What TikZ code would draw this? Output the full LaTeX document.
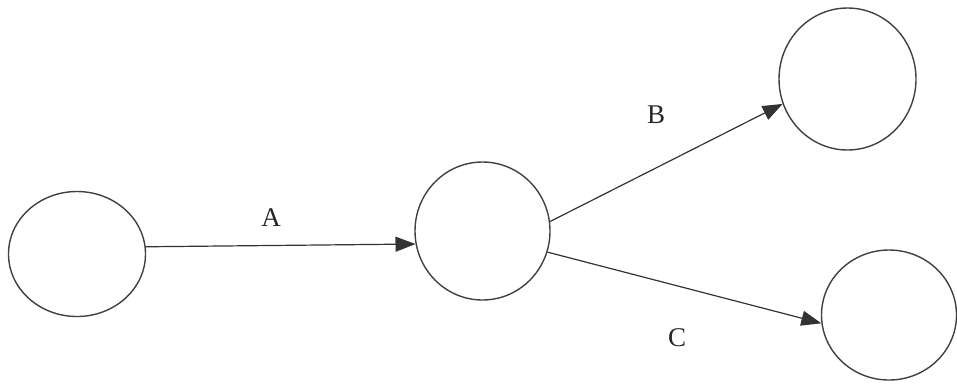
\documentclass[tikz,border=0pt]{standalone}
\usepackage{fontspec}
\setmainfont{Liberation Serif}
\usetikzlibrary{shapes.geometric,arrows.meta}
\begin{document}
\begin{tikzpicture}[x=1pt,y=-1pt,
  state/.style={ellipse,draw=black!75,line width=1.4pt,inner sep=0pt},
  conn/.style={draw=black!80,line width=1.2pt,-{Triangle[length=20pt,width=15pt]}},
  lbl/.style={font=\fontsize{27}{29}\selectfont,text=black!85}]
\useasboundingbox (0,0) rectangle (957,384);
\node[state,minimum width=137pt,minimum height=125pt] (c1) at (77,254) {};
\node[state,minimum width=135pt,minimum height=138pt] (c2) at (482.5,231) {};
\node[state,minimum width=137pt,minimum height=142pt] (c3) at (847.5,79) {};
\node[state,minimum width=135pt,minimum height=130pt] (c4) at (889,315) {};
\draw[conn] (c1.6) -- (c2.191);
\draw[conn] (c2.8) -- (c3.201);
\draw[conn] (c2.342) -- (c4.187);
\node[lbl] (la) at (271,218) {A};
\node[lbl] (lb) at (656,115) {B};
\node[lbl] (lc) at (677,338) {C};
\end{tikzpicture}
\end{document}
